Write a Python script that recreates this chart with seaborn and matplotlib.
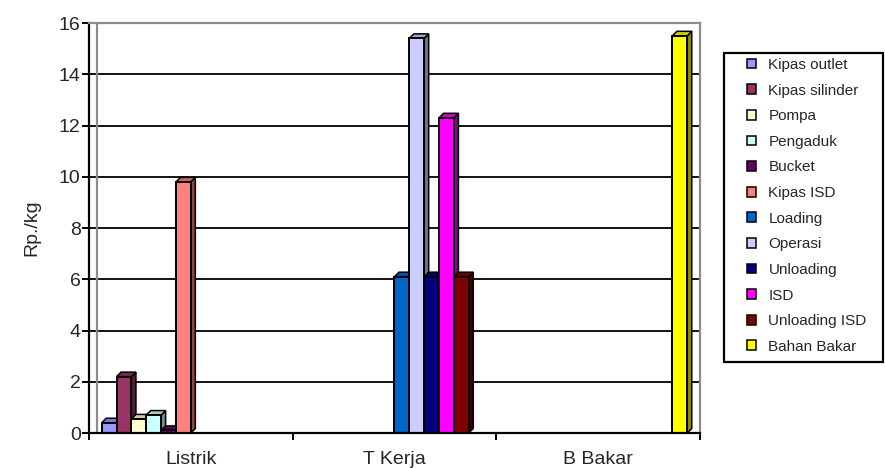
import matplotlib
matplotlib.use("Agg")
import matplotlib.pyplot as plt
from matplotlib.patches import Polygon, Patch, Rectangle
from matplotlib.lines import Line2D
import matplotlib.colors as mcolors
import numpy as np
import pandas as pd
import seaborn as sns

# Cost components (Rp./kg) per cost group
categories = ["Listrik", "T Kerja", "B Bakar"]
series = ["Kipas outlet", "Kipas silinder", "Pompa", "Pengaduk", "Bucket",
          "Kipas ISD", "Loading", "Operasi", "Unloading", "ISD",
          "Unloading ISD", "Bahan Bakar"]
listrik = [0.4, 2.2, 0.55, 0.7, 0.1, 9.8, 0, 0, 0, 0, 0, 0]
t_kerja = [0, 0, 0, 0, 0, 0, 6.1, 15.4, 6.1, 12.3, 6.1, 0]
b_bakar = [0, 0, 0, 0, 0, 0, 0, 0, 0, 0, 0, 15.5]
colors = ["#9999FF", "#993366", "#FFFFCC", "#CCFFFF", "#660066", "#FF8080",
          "#0066CC", "#CCCCFF", "#000080", "#FF00FF", "#800000", "#FFFF00"]
y_ticks = [0, 2, 4, 6, 8, 10, 12, 14, 16]

rows = []
for cat, vals in zip(categories, [listrik, t_kerja, b_bakar]):
    for s, v in zip(series, vals):
        if v > 0:
            rows.append({"kategori": cat, "komponen": s, "nilai": v})
df = pd.DataFrame(rows)

sns.set_style("white")
plt.rcParams["font.family"] = ["Liberation Sans", "DejaVu Sans"]

W, H = 885, 468
fig = plt.figure(figsize=(W / 100, H / 100), dpi=100)
ax = fig.add_axes([89 / W, 1 - 433 / H, (700 - 89) / W, (433 - 23) / H])

sns.barplot(data=df, x="kategori", y="nilai", hue="komponen",
            order=categories, hue_order=series, palette=colors,
            saturation=1, width=0.875, gap=0, edgecolor="black",
            linewidth=1.4, ax=ax, legend=False, zorder=3)

ax.set_xlim(-0.5, 2.5)
ax.set_ylim(0, 16)
ax.set_yticks(y_ticks)
ax.set_yticklabels([str(t) for t in y_ticks], fontsize=14)
ax.set_xticks(range(len(categories)))
ax.set_xticklabels(categories, fontsize=14)
ax.set_xticks([-0.5, 0.5, 1.5, 2.5], minor=True)
ax.tick_params(axis="x", which="major", length=0, pad=13)
ax.tick_params(axis="x", which="minor", length=5, width=1.4, direction="out",
               color="black", bottom=True)
ax.tick_params(axis="y", length=5, width=1.4, direction="out", color="black",
               left=True, pad=1)
ax.set_xlabel("")
ax.set_ylabel("Rp./kg", fontsize=14, labelpad=13)

ax.grid(axis="y", color="black", linewidth=1.3, zorder=0)
ax.set_axisbelow(True)
for side in ["left", "bottom"]:
    ax.spines[side].set_color("black")
    ax.spines[side].set_linewidth(1.6)
for side in ["top", "right"]:
    ax.spines[side].set_color("#8c8c8c")
    ax.spines[side].set_linewidth(1.6)
ax.spines["bottom"].set_zorder(5)

# grey back-wall edge just inside the value axis
ax_w_px = 700 - 89
ax.add_line(Line2D([8 / ax_w_px, 8 / ax_w_px], [0, 1], transform=ax.transAxes,
                   color="#8c8c8c", linewidth=1.6, zorder=1))

# Shaded top and side faces give each column a shallow depth
depth_px = 4.5
inv = ax.transData.inverted()
for patch in list(ax.patches):
    h = patch.get_height()
    if h <= 0:
        continue
    x0, y0 = patch.get_x(), patch.get_y()
    x1, y1 = x0 + patch.get_width(), y0 + h
    fc = np.array(mcolors.to_rgb(patch.get_facecolor()))
    pts = ax.transData.transform([(x0, y1), (x1, y1), (x1, y0)])
    (ax0, ay1), (ax1, _), (_, ay0) = pts
    d = depth_px
    top = inv.transform([(ax0, ay1), (ax1, ay1), (ax1 + d, ay1 + d), (ax0 + d, ay1 + d)])
    side = inv.transform([(ax1, ay0), (ax1, ay1), (ax1 + d, ay1 + d), (ax1 + d, ay0 + d)])
    ax.add_patch(Polygon(side, closed=True, facecolor=fc * 0.55,
                         edgecolor="black", linewidth=1.1, zorder=2.9))
    ax.add_patch(Polygon(top, closed=True, facecolor=fc * 0.8,
                         edgecolor="black", linewidth=1.1, zorder=2.9))

# Legend: entries plus a separately drawn frame box
handles = [Patch(facecolor=c, edgecolor="black", linewidth=1.1) for c in colors]
leg = fig.legend(handles, series, loc="upper left",
                 bbox_to_anchor=(747 / W, 1 - 58 / H), fontsize=11,
                 frameon=False, handlelength=0.6, handleheight=0.6,
                 handletextpad=0.8, labelspacing=0.76, borderpad=0,
                 borderaxespad=0)
fig.patches.append(Rectangle((724 / W, 1 - 362 / H), (883 - 724) / W,
                             (362 - 53) / H, transform=fig.transFigure,
                             fill=False, edgecolor="black", linewidth=1.6))

fig.savefig("out.png", dpi=100)
